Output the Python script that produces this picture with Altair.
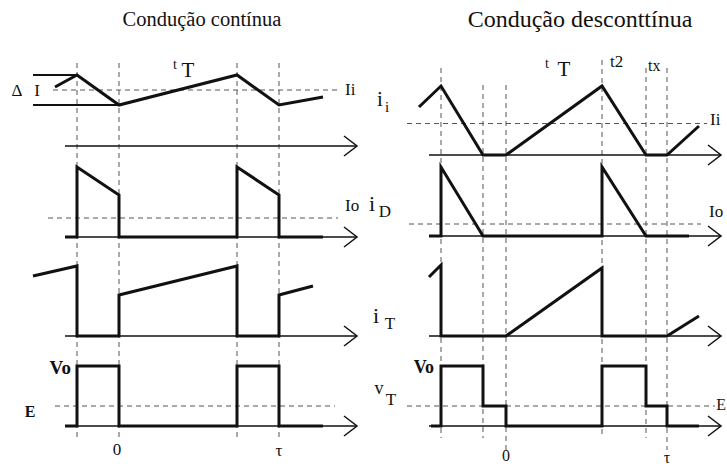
import altair as alt
import pandas as pd

# ---------------------------------------------------------------
# Waveforms of a boost-type converter: time in units (period = 16),
# level measured upward from each trace's own time axis.
# ---------------------------------------------------------------

# Continuous conduction
cc_marks = [-4.2, 0.0, 11.8, 16.0]
cc_ii_t = [-6.4, -4.2, 0.0, 11.8, 16.0, 20.4]
cc_ii_v = [5.9, 7.1, 4.1, 7.1, 4.1, 4.9]
cc_id_t = [-5.4, -4.2, -4.2, 0.0, 0.0, 11.8, 11.8, 16.0, 16.0, 20.4]
cc_id_v = [0, 0, 7.0, 4.2, 0, 0, 7.0, 4.2, 0, 0]
cc_it_t = [-8.6, -4.2, -4.2, 0.0, 0.0, 11.8, 11.8, 16.0, 16.0, 19.4]
cc_it_v = [6.0, 7.0, 0, 0, 4.1, 7.0, 0, 0, 4.1, 5.0]
cc_vt_t = [-5.4, -4.2, -4.2, 0.0, 0.0, 11.8, 11.8, 16.0, 16.0, 20.4]
cc_vt_v = [0, 0, 6.0, 6.0, 0, 0, 6.0, 6.0, 0, 0]
cc_Ii, cc_Io, cc_E = 5.6, 1.9, 2.0
cc_dI_hi, cc_dI_lo = 7.1, 4.1

# Discontinuous conduction
dc_marks = [-6.5, -2.3, 0.0, 9.6, 14.0, 16.1]
dc_ii_t = [-8.7, -6.5, -2.3, 0.0, 9.6, 14.0, 16.1, 19.3]
dc_ii_v = [4.8, 6.9, 0, 0, 6.9, 0, 0, 2.9]
dc_id_t = [-7.7, -6.5, -6.5, -2.3, 9.6, 9.6, 14.0, 18.3]
dc_id_v = [0, 0, 6.9, 0, 0, 6.9, 0, 0]
dc_it_t = [-7.7, -6.5, -6.5, 0.0, 9.6, 9.6, 16.1, 19.3]
dc_it_v = [5.9, 7.1, 0, 0, 6.8, 0, 0, 2.0]
dc_vt_t = [-7.5, -6.5, -6.5, -2.3, -2.3, 0.0, 0.0, 9.6, 9.6, 14.0, 14.0, 16.1, 16.1, 19.3]
dc_vt_v = [0, 0, 6.0, 6.0, 2.0, 2.0, 0, 0, 6.0, 6.0, 2.0, 2.0, 0, 0]
dc_Ii, dc_Io, dc_E = 3.15, 1.2, 2.0

# ---------------------------------------------------------------
# Layout (canvas units of 10 px, y growing downward)
# ---------------------------------------------------------------
ORIGIN = {"cc": 11.9, "dc": 50.6}
BASE = {"cc": [14.6, 23.7, 33.6, 42.6], "dc": [15.5, 23.6, 33.6, 42.6]}
AXIS_SPAN = {"cc": (-5.4, 23.8), "dc": (-7.7, 21.5)}
FONT = "Liberation Serif"
INK = "#111111"
DASH_INK = "#555555"


def cx(panel, t):
    return ORIGIN[panel] + t


def cy(panel, row, v):
    return BASE[panel][row] - v


# waveform polylines
wave_rows = []
traces = {
    "cc": [(cc_ii_t, cc_ii_v), (cc_id_t, cc_id_v), (cc_it_t, cc_it_v), (cc_vt_t, cc_vt_v)],
    "dc": [(dc_ii_t, dc_ii_v), (dc_id_t, dc_id_v), (dc_it_t, dc_it_v), (dc_vt_t, dc_vt_v)],
}
for panel, lst in traces.items():
    for row, (ts, vs) in enumerate(lst):
        for k, (t, v) in enumerate(zip(ts, vs)):
            wave_rows.append({"id": f"{panel}{row}", "k": k,
                              "x": cx(panel, t), "y": cy(panel, row, v)})
waves = pd.DataFrame(wave_rows)

# time axes and their open arrow heads
axis_rows, head_rows = [], []
for panel in ("cc", "dc"):
    t0, t1 = AXIS_SPAN[panel]
    for row in range(4):
        b = BASE[panel][row]
        axis_rows.append({"x": cx(panel, t0), "x2": cx(panel, t1), "y": b})
        for k, (dt, dy) in enumerate([(-1.3, -1.0), (0, 0), (-1.3, 1.0)]):
            head_rows.append({"id": f"{panel}{row}", "k": k,
                              "x": cx(panel, t1 + dt), "y": b + dy})
axes = pd.DataFrame(axis_rows)
heads = pd.DataFrame(head_rows)

# dashed reference levels (Ii, Io, E)
refs = pd.DataFrame([
    {"x": cx("cc", -6.6), "x2": cx("cc", 21.8), "y": cy("cc", 0, cc_Ii)},
    {"x": cx("cc", -7.1), "x2": cx("cc", 21.9), "y": cy("cc", 1, cc_Io)},
    {"x": cx("cc", -6.4), "x2": cx("cc", 21.6), "y": cy("cc", 3, cc_E)},
    {"x": cx("dc", -9.9), "x2": cx("dc", 20.1), "y": cy("dc", 0, dc_Ii)},
    {"x": cx("dc", -9.7), "x2": cx("dc", 19.5), "y": cy("dc", 1, dc_Io)},
    {"x": cx("dc", -9.9), "x2": cx("dc", 20.9), "y": cy("dc", 3, dc_E)},
])

# dashed switching instants
dc_tops = [6.8, 8.5, 8.5, 6.0, 6.8, 6.8]
dc_bots = [43.8, 43.8, 45.0, 43.8, 43.8, 45.0]
vrows = [{"x": cx("cc", t), "y": 6.3, "y2": 43.8} for t in cc_marks]
vrows += [{"x": cx("dc", t), "y": a, "y2": b} for t, a, b in zip(dc_marks, dc_tops, dc_bots)]
vlines = pd.DataFrame(vrows)

# ripple band (delta I)
band = pd.DataFrame([
    {"x": cx("cc", -8.6), "x2": cx("cc", -4.2), "y": cy("cc", 0, cc_dI_hi)},
    {"x": cx("cc", -8.6), "x2": cx("cc", 0.0), "y": cy("cc", 0, cc_dI_lo)},
])

# labels
labels_c = pd.DataFrame([
    {"x": 20.2, "y": 2.0, "text": "Condução contínua", "size": 20.5},
    {"x": 58.0, "y": 2.0, "text": "Condução desconttínua", "size": 24},
    {"x": 1.7, "y": 9.1, "text": "Δ", "size": 17},
    {"x": 3.7, "y": 9.1, "text": "I", "size": 17},
    {"x": 17.5, "y": 6.5, "text": "t", "size": 14},
    {"x": 18.8, "y": 7.1, "text": "T", "size": 21},
    {"x": 11.7, "y": 45.0, "text": "0", "size": 17},
    {"x": 27.9, "y": 45.1, "text": "τ", "size": 17},
    {"x": 38.0, "y": 10.0, "text": "i", "size": 21},
    {"x": 38.7, "y": 10.7, "text": "i", "size": 15},
    {"x": 54.7, "y": 6.4, "text": "t", "size": 14},
    {"x": 56.4, "y": 7.0, "text": "T", "size": 21},
    {"x": 37.2, "y": 20.4, "text": "i", "size": 22},
    {"x": 38.5, "y": 21.2, "text": "D", "size": 17},
    {"x": 37.6, "y": 31.6, "text": "i", "size": 22},
    {"x": 39.0, "y": 32.4, "text": "T", "size": 17},
    {"x": 37.9, "y": 38.9, "text": "v", "size": 18},
    {"x": 39.1, "y": 40.0, "text": "T", "size": 17},
    {"x": 50.6, "y": 45.6, "text": "0", "size": 16},
    {"x": 66.7, "y": 45.8, "text": "τ", "size": 16},
])
labels_l = pd.DataFrame([
    {"x": 34.5, "y": 9.0, "text": "Ii", "size": 17},
    {"x": 34.5, "y": 20.6, "text": "Io", "size": 17},
    {"x": 71.0, "y": 12.0, "text": "Ii", "size": 17},
    {"x": 61.0, "y": 6.2, "text": "t2", "size": 17},
    {"x": 64.8, "y": 6.6, "text": "tx", "size": 16},
    {"x": 70.9, "y": 21.2, "text": "Io", "size": 17},
])
labels_r = pd.DataFrame([
    {"x": 72.6, "y": 40.5, "text": "E", "size": 16},
])
labels_bold_c = pd.DataFrame([
    {"x": 3.0, "y": 41.2, "text": "E", "size": 16},
])
labels_bold_r = pd.DataFrame([
    {"x": 7.1, "y": 36.8, "text": "Vo", "size": 19},
    {"x": 43.4, "y": 36.8, "text": "Vo", "size": 18},
])

X = alt.X("x:Q", scale=alt.Scale(domain=[0, 72.7], nice=False, zero=False), axis=None)
Y = alt.Y("y:Q", scale=alt.Scale(domain=[0, 46.6], nice=False, zero=False, reverse=True), axis=None)

wave_layer = alt.Chart(waves).mark_line(color=INK, strokeWidth=3, strokeJoin="miter").encode(
    x=X, y=Y, detail="id:N", order="k:Q")
axis_layer = alt.Chart(axes).mark_rule(color=INK, strokeWidth=1.5).encode(x=X, x2="x2:Q", y=Y)
head_layer = alt.Chart(heads).mark_line(color=INK, strokeWidth=1.5).encode(
    x=X, y=Y, detail="id:N", order="k:Q")
ref_layer = alt.Chart(refs).mark_rule(color=DASH_INK, strokeWidth=1, strokeDash=[5, 4]).encode(
    x=X, x2="x2:Q", y=Y)
v_layer = alt.Chart(vlines).mark_rule(color=DASH_INK, strokeWidth=1, strokeDash=[5, 4]).encode(
    x=X, y=Y, y2="y2:Q")
band_layer = alt.Chart(band).mark_rule(color=INK, strokeWidth=2).encode(x=X, x2="x2:Q", y=Y)


def text_layer(df, align, weight="normal"):
    return alt.Chart(df).mark_text(font=FONT, color=INK, align=align, baseline="middle",
                                   fontWeight=weight).encode(
        x=X, y=Y, text="text:N",
        size=alt.Size("size:Q", scale=None, legend=None))


chart = alt.layer(
    v_layer, ref_layer, axis_layer, head_layer, band_layer, wave_layer,
    text_layer(labels_c, "center"), text_layer(labels_l, "left"), text_layer(labels_r, "right"),
    text_layer(labels_bold_c, "center", "bold"), text_layer(labels_bold_r, "right", "bold"),
).properties(
    width=727, height=466, padding=0, autosize=alt.AutoSizeParams(type="none"),
    background="white",
).configure_view(stroke=None)

chart.save("out.html", embed_options={"renderer": "svg", "actions": False})
